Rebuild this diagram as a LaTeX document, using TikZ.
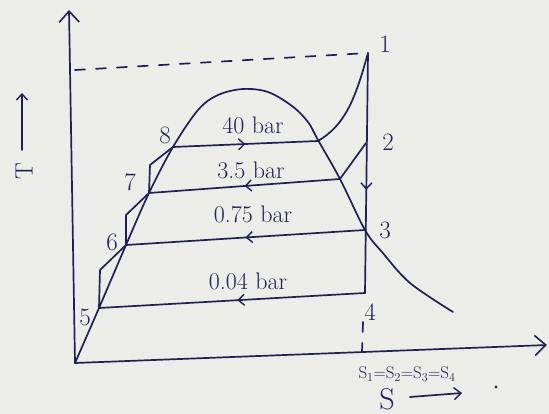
\documentclass[tikz,border=0pt]{standalone}
\usetikzlibrary{arrows.meta,decorations.markings}
\definecolor{ink}{RGB}{32,32,82}
\definecolor{paper}{RGB}{236,237,232}
\tikzset{
  pen/.style={draw=ink,line width=1.7pt,line cap=round,line join=round},
  axisarrow/.style={pen,-{Straight Barb[length=11pt,width=20pt,line width=1.6pt]}},
  midarr/.style={pen,decoration={markings,mark=at position #1 with {\arrow{Straight Barb[length=6pt,width=11pt,line width=1.4pt]}}},postaction=decorate},
  ptlabel/.style={text=ink,font=\fontsize{25}{27}\selectfont,inner sep=0pt},
  barlabel/.style={text=ink,font=\fontsize{24}{26}\selectfont,inner sep=0pt},
  dashline/.style={pen,dash pattern=on 10pt off 11pt}
}
\begin{document}
\begin{tikzpicture}[x=1pt,y=-1pt]
\fill[paper] (0,0) rectangle (549,414);
\useasboundingbox (0,0) rectangle (549,414);
% key points
\coordinate (O) at (75,363);
\coordinate (Ttop) at (69,10);
\coordinate (Send) at (547,345);
\coordinate (p1) at (368,53);
\coordinate (p2) at (366,143);
\coordinate (p3) at (365,230);
\coordinate (p4) at (365,293);
\coordinate (p5) at (99,308);
\coordinate (p6) at (126,245);
\coordinate (p7) at (149,193);
\coordinate (p8) at (173,147);
\coordinate (g40) at (318,141);
\coordinate (g35) at (340,179);
\coordinate (q5) at (100,270);
\coordinate (q6) at (126,215);
\coordinate (q7) at (150,165);
\coordinate (d0) at (75,70);
\coordinate (d4a) at (363,322);
\coordinate (d4b) at (362,352);
% axes
\draw[axisarrow] (O) -- (Ttop);
\draw[axisarrow] (O) -- (Send);
% dashed lines
\draw[dashline] (d0) -- (p1);
\draw[dashline] (d4a) -- (d4b);
% dome
\draw[pen] plot[smooth,tension=0.55] coordinates {(75,363) (99,308) (126,245) (149,193) (173,147) (198,110) (218,95) (243,89) (268,92) (292,106) (308,122) (318,140) (340,179) (365,230) (382,252) (410,283) (453,312)};
% superheat curve
\draw[pen] (p1) .. controls (355,100) and (345,125) .. (g40);
% expansion line
\draw[midarr=0.57] (p1) -- (p4);
\draw[pen] (p2) -- (g35);
% pressure lines
\draw[midarr=0.5] (p8) -- (g40);
\draw[midarr=0.5] (g35) -- (p7);
\draw[midarr=0.5] (p3) -- (p6);
\draw[midarr=0.48] (p4) -- (p5);
% pumps / heaters
\draw[pen] (p5) -- (q5) -- (p6);
\draw[pen] (p6) -- (q6) -- (p7);
\draw[pen] (p7) -- (q7) -- (p8);
% point labels
\node[ptlabel] (l1) at (385,44) {1};
\node[ptlabel] (l2) at (388,142) {2};
\node[ptlabel] (l3) at (385,230) {3};
\node[ptlabel] (l4) at (370,312) {4};
\node[ptlabel] (l5) at (85,317) {5};
\node[ptlabel] (l6) at (112,242) {6};
\node[ptlabel] (l7) at (130,182) {7};
\node[ptlabel] (l8) at (165,135) {8};
% pressure labels
\node[barlabel] (b40) at (253,125) {40 bar};
\node[barlabel] (b35) at (251,170) {3.5 bar};
\node[barlabel] (b075) at (253,214) {0.75 bar};
\node[barlabel] (b004) at (248,281) {0.04 bar};
% axis labels
\node[ptlabel,rotate=90] (tl) at (24,171) {T};
\coordinate (ta) at (22,150);
\coordinate (tb) at (22,93);
\draw[pen,-{Straight Barb[length=6pt,width=11pt,line width=1.4pt]}] (ta) -- (tb);
\node[text=ink,font=\fontsize{17}{19}\selectfont,inner sep=0pt] (seq) at (407,374) {S$_1$=S$_2$=S$_3$=S$_4$};
\node[ptlabel,font=\fontsize{30}{32}\selectfont] (sl) at (387,399) {S};
\coordinate (sa) at (410,397);
\coordinate (sb) at (462,393);
\draw[pen,-{Straight Barb[length=7pt,width=12pt,line width=1.4pt]}] (sa) -- (sb);
\fill[ink] (496,387) circle (1.6pt);
\end{tikzpicture}
\end{document}
